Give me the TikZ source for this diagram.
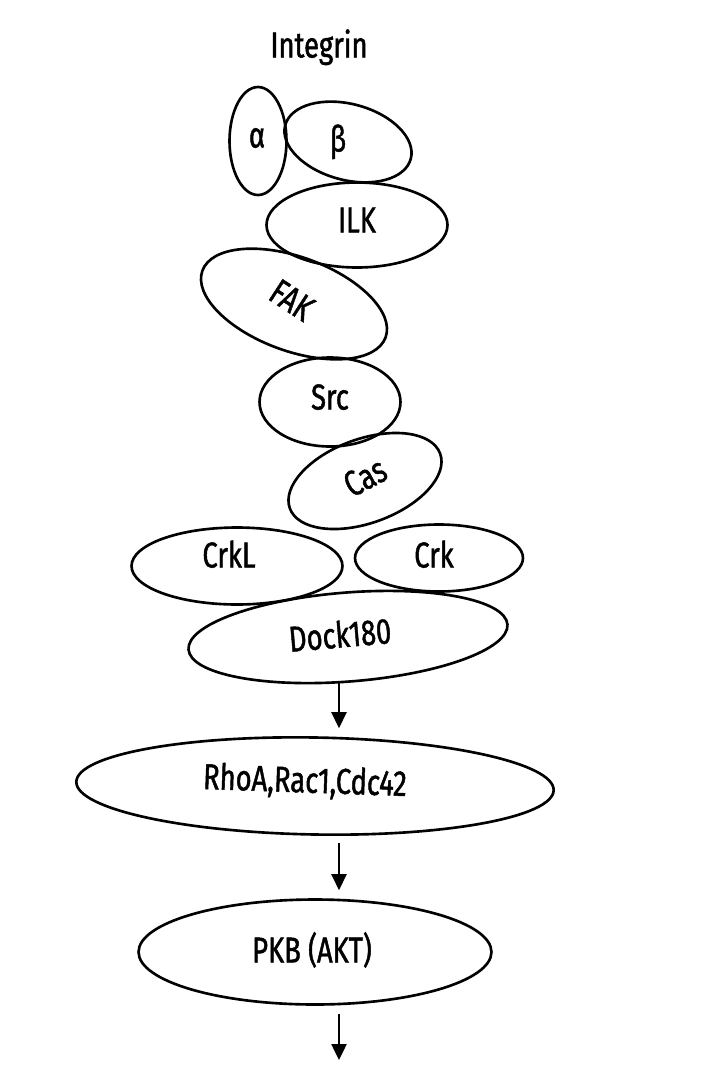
\documentclass[tikz,border=0pt]{standalone}
\usepackage{fontspec}
\setmainfont{Fira Sans}[FakeStretch=0.76, FakeBold=1.2]
\usetikzlibrary{arrows.meta, shapes.geometric}
\tikzset{
  prot/.style  = {ellipse, draw=black, line width=1.5pt, fill=none, inner sep=0pt},
  txt/.style   = {font=\fontsize{20.5}{24}\selectfont, inner sep=0pt,
                  text height=0.5cm, text depth=0pt},
  arrow/.style = {-{Triangle[width=0.3cm, length=0.32cm]}, line width=1.4pt,
                  shorten >=0.16cm},
}

\begin{document}
\begin{tikzpicture}[x=0.02cm, y=-0.02cm]
  \useasboundingbox (0,0) rectangle (720,1080);
  % protein ellipses
  \foreach \name/\x/\y/\w/\h/\r in {%
      alpha/258/141/1.14/2.16/0, beta/348/142/2.6/1.52/-15,
      ilk/357/225/3.62/1.7/0, fak/294/304/3.9/1.88/-20,
      src/330/402/2.82/1.78/0, cas/365/481/3.2/1.68/20,
      crkl/237/566/4.22/1.54/0, crk/439/558/3.36/1.34/0,
      dock/348/637/6.4/1.78/4.5, rho/315/786/9.55/1.94/-1,
      pkb/315/952/7.06/2.1/0} {
    \node[prot, minimum width=\w cm, minimum height=\h cm, rotate=\r]
      (\name) at (\x,\y) {};
  }
  % labels
  \node[txt] (tint) at (319,45) {Integrin};
  \foreach \name/\x/\y/\r/\lbl in {%
      alpha/257/135/0/α, beta/338/139/0/β, ilk/357/220/0/ILK,
      fak/292/300/-33/FAK, src/330/397/0/Src, cas/365/477/28/Cas,
      crkl/229/555/0/CrkL, crk/434/555/0/Crk, dock/340/635/5/Dock180,
      rho/305/780/-2/{RhoA,Rac1,Cdc42}, pkb/312/950/0/PKB (AKT)} {
    \node[txt, rotate=\r] (t\name) at (\x,\y) {\lbl};
  }
  % signalling arrows
  \coordinate (axis) at (339,0);
  \coordinate (out) at (339,1060);
  \draw[arrow] (dock.south -| axis) -- (rho.north -| axis);
  \draw[arrow, shorten <=0.14cm] (rho.south -| axis) -- (pkb.north -| axis);
  \draw[arrow, shorten <=0.16cm, shorten >=0pt] (pkb.south -| axis) -- (out);
\end{tikzpicture}
\end{document}
